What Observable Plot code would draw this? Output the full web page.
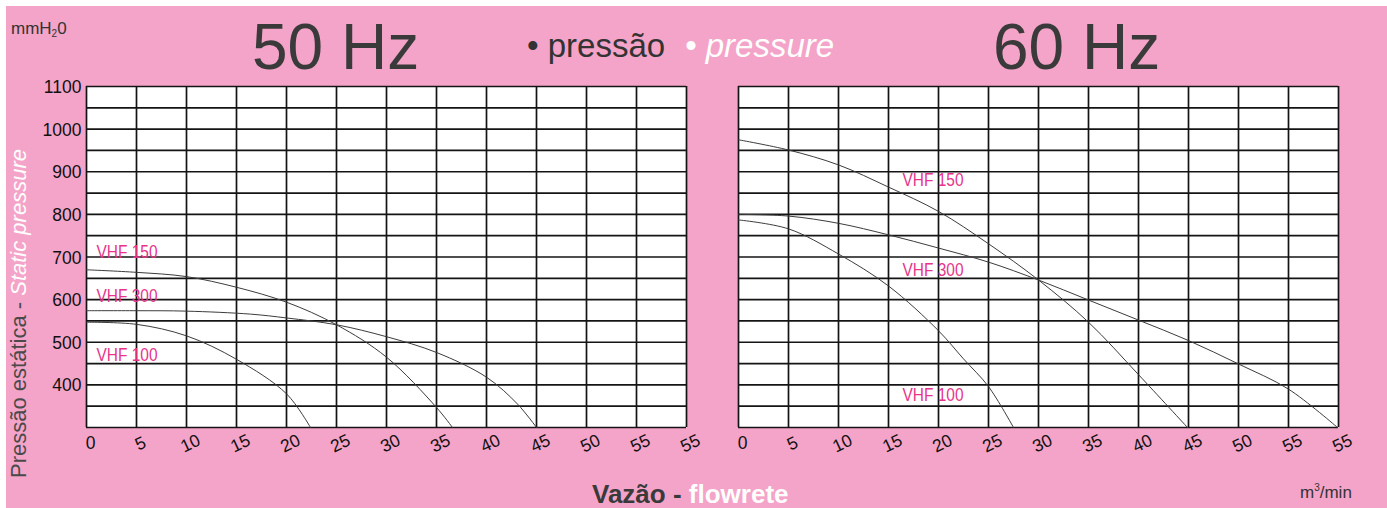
<!DOCTYPE html>
<html>
<head>
<meta charset="utf-8">
<script src="https://cdn.jsdelivr.net/npm/d3@7"></script>
<script src="https://cdn.jsdelivr.net/npm/@observablehq/plot@0.6"></script>
<style>
  html, body { margin: 0; padding: 0; background: #ffffff; }
  body { width: 1387px; height: 508px; overflow: hidden; position: relative; font-family: "Liberation Sans", Arial, sans-serif; }
  #bg { position: absolute; left: 6px; top: 6px; right: 0; bottom: 0; background: #F4A4C8; }
  #c50, #c60 { position: absolute; top: 0; }
  #c50 { left: 0; }
  #c60 { left: 700px; }
  #overlay { position: absolute; left: 0; top: 0; pointer-events: none; }
</style>
</head>
<body>
<div id="bg"></div>
<div id="c50"></div>
<div id="c60"></div>
<svg id="overlay" width="1387" height="508"></svg>
<script>
// ---- data ----
const flowTicks = [0, 5, 10, 15, 20, 25, 30, 35, 40, 45, 50, 55, 60];
const flowTickLabels = ["0", "5", "10", "15", "20", "25", "30", "35", "40", "45", "50", "55", "55"];
const pressureGrid = [300, 350, 400, 450, 500, 550, 600, 650, 700, 750, 800, 850, 900, 950, 1000, 1050, 1100];
const pressureTicks = [400, 500, 600, 700, 800, 900, 1000, 1100];

// 50 Hz curves
const vhf150_50_flow = [0, 5, 10, 15, 20, 25, 30, 35, 36.6];
const vhf150_50_p    = [670, 664, 654, 629, 594, 541, 465, 347, 300];
const vhf300_50_flow = [0, 5, 10, 16.4, 20, 25, 30, 35, 40, 43.1, 45];
const vhf300_50_p    = [574, 574, 573, 566, 557, 541, 513, 476, 418, 355, 300];
const vhf100_50_flow = [0, 5, 10, 15, 20, 22.4];
const vhf100_50_p    = [547, 542, 515, 460, 379, 300];

// 60 Hz curves
const vhf150_60_flow = [0, 5, 10, 15, 20, 25, 30, 35, 40, 44.9];
const vhf150_60_p    = [975, 951, 916, 864, 807, 731, 646, 547, 424, 300];
const vhf300_60_flow = [0, 5, 10, 15, 20, 25, 30, 35, 40, 45, 50, 55, 59.9];
const vhf300_60_p    = [800, 796, 779, 752, 721, 688, 646, 599, 552, 504, 449, 390, 300];
const vhf100_60_flow = [0, 5, 10, 15, 20, 22.5, 25, 27.5];
const vhf100_60_p    = [787, 766, 707, 632, 527, 461, 396, 300];

// label anchors (flow, pressure)
const labels50 = [["VHF 150", 1, 712], ["VHF 300", 1, 609], ["VHF 100", 1, 469]];
const labels60 = [["VHF 150", 16.4, 879], ["VHF 300", 16.4, 668], ["VHF 100", 16.4, 375]];

// ---- build tables ----
function rows(model, flow, p) { return flow.map((f, i) => ({ model, flow: f, pressure: p[i] })); }
const data50 = [
  ...rows("VHF 150", vhf150_50_flow, vhf150_50_p),
  ...rows("VHF 300", vhf300_50_flow, vhf300_50_p),
  ...rows("VHF 100", vhf100_50_flow, vhf100_50_p)
];
const data60 = [
  ...rows("VHF 150", vhf150_60_flow, vhf150_60_p),
  ...rows("VHF 300", vhf300_60_flow, vhf300_60_p),
  ...rows("VHF 100", vhf100_60_flow, vhf100_60_p)
];
const xTickRows = flowTicks.map((v, i) => ({ x: v, y: 300, label: flowTickLabels[i], rot: v === 0 ? 0 : -25 }));
const yTickRows = pressureTicks.map(v => ({ x: 0, y: v, label: String(v) }));
const toLabelRows = arr => arr.map(([t, x, y]) => ({ t, x, y }));

const gridColor = "#141414";
const ff = "'Liberation Sans', Arial, sans-serif";

function chart(data, labelArr, { width, ml, mr, yLabels }) {
  return Plot.plot({
    width, height: 508,
    marginLeft: ml, marginRight: mr, marginTop: 86, marginBottom: 81,
    x: { domain: [0, 60], axis: null },
    y: { domain: [300, 1100], axis: null },
    style: "background: transparent; overflow: visible;",
    marks: [
      Plot.frame({ fill: "white", stroke: "none" }),
      Plot.ruleY(pressureGrid, { stroke: gridColor, strokeWidth: 1.7 }),
      Plot.ruleX(flowTicks, { stroke: gridColor, strokeWidth: 1.7 }),
      Plot.line(data, { x: "flow", y: "pressure", z: "model", stroke: "#3c3c3c", strokeWidth: 1, curve: "catmull-rom" }),
      Plot.text(toLabelRows(labelArr), { x: "x", y: "y", text: "t", textAnchor: "start", fill: "#E7338A", fontSize: 18, fontFamily: ff, className: "vhf-label" }),
      Plot.text(xTickRows, { x: "x", y: "y", text: "label", rotate: "rot", dy: 16, dx: 4, fontSize: 17.5, fill: "#111", fontFamily: ff }),
      yLabels ? Plot.text(yTickRows, { x: "x", y: "y", text: "label", textAnchor: "end", dx: -5, dy: 1, fontSize: 17.5, fill: "#111", fontFamily: ff }) : null
    ]
  });
}

const c50 = chart(data50, labels50, { width: 700, ml: 86, mr: 14, yLabels: true });
const c60 = chart(data60, labels60, { width: 687, ml: 38, mr: 49, yLabels: false });
document.getElementById("c50").append(c50);
document.getElementById("c60").append(c60);

// condense the curve labels (narrow face in the original)
d3.selectAll(".vhf-label text").attr("textLength", 61).attr("lengthAdjust", "spacingAndGlyphs");

// ---- overlay texts ----
const ov = d3.select("#overlay");

const mm = ov.append("text").attr("x", 11).attr("y", 34).attr("font-family", ff).attr("font-size", 17).attr("fill", "#333");
mm.append("tspan").text("mmH");
mm.append("tspan").attr("font-size", 10).attr("dy", 3).text("2");
mm.append("tspan").attr("dy", -3).text("0");

ov.append("text").attr("x", 252).attr("y", 69).attr("font-family", ff).attr("font-size", 64).attr("fill", "#3a3a3a").text("50 Hz");
ov.append("text").attr("x", 993).attr("y", 69).attr("font-family", ff).attr("font-size", 64).attr("fill", "#3a3a3a").text("60 Hz");
ov.append("text").attr("x", 527).attr("y", 57).attr("font-family", ff).attr("font-size", 33).attr("fill", "#333").text("• pressão");
ov.append("text").attr("x", 685).attr("y", 57).attr("font-family", ff).attr("font-size", 33).attr("font-style", "italic").attr("fill", "#ffffff").text("• pressure");

const yt = ov.append("text").attr("transform", "translate(25.5,313.5) rotate(-90)").attr("text-anchor", "middle")
  .attr("font-family", ff).attr("font-size", 22);
yt.append("tspan").attr("fill", "#4a4a4a").text("Pressão estática - ");
yt.append("tspan").attr("fill", "#ffffff").attr("font-style", "italic").text("Static pressure");

const xt = ov.append("text").attr("x", 592).attr("y", 503).attr("font-family", ff).attr("font-size", 26).attr("font-weight", "bold");
xt.append("tspan").attr("fill", "#3a3a3a").text("Vazão - ");
xt.append("tspan").attr("fill", "#ffffff").text("flowrete");

const un = ov.append("text").attr("x", 1300).attr("y", 498).attr("font-family", ff).attr("font-size", 17).attr("fill", "#333");
un.append("tspan").text("m");
un.append("tspan").attr("font-size", 10).attr("dy", -7).text("3");
un.append("tspan").attr("dy", 7).text("/min");
</script>
</body>
</html>
